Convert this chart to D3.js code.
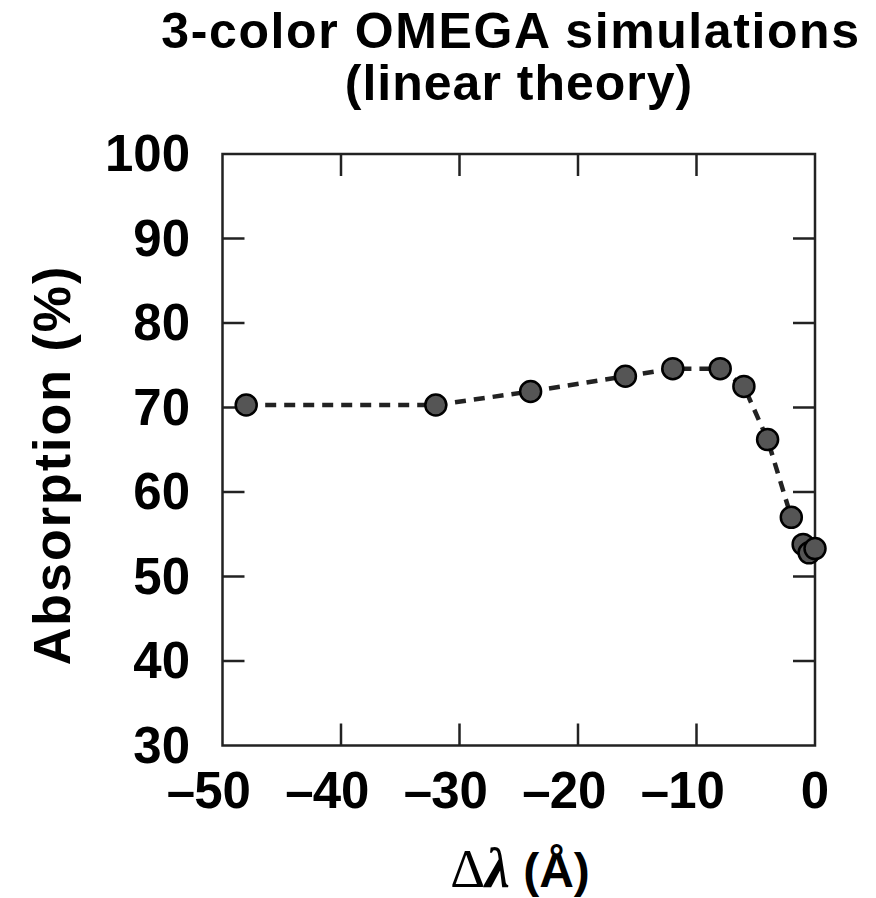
<!DOCTYPE html>
<html>
<head>
<meta charset="utf-8">
<script src="https://cdn.jsdelivr.net/npm/d3@7"></script>
<style>
  body { margin: 0; background: #fff; }
  svg { display: block; }
  text { font-family: "Liberation Sans", Arial, sans-serif; font-weight: bold; fill: #000; }
</style>
</head>
<body>
<svg width="876" height="898"></svg>
<script>
const deltaLambda = [-48, -32, -24, -16, -12, -8, -6, -4, -2, -1, -0.5, 0];
const absorption = [70.3, 70.3, 71.9, 73.7, 74.6, 74.6, 72.5, 66.2, 57.0, 53.8, 52.8, 53.3];
const xTicks = [-50, -40, -30, -20, -10, 0];
const yTicks = [30, 40, 50, 60, 70, 80, 90, 100];
const titleLines = ["3-color OMEGA simulations", "(linear theory)"];

const svg = d3.select("svg");
const plotLeft = 222.5, plotRight = 815, plotTop = 154, plotBottom = 745.5;

const x = d3.scaleLinear().domain([-50, 0]).range([plotLeft, plotRight]);
const y = d3.scaleLinear().domain([30, 100]).range([plotBottom, plotTop]);

const points = deltaLambda.map((d, i) => ({ x: d, y: absorption[i] }));

// frame
svg.append("rect")
  .attr("x", plotLeft).attr("y", plotTop)
  .attr("width", plotRight - plotLeft).attr("height", plotBottom - plotTop)
  .attr("fill", "none").attr("stroke", "#222").attr("stroke-width", 2.5);

// inward ticks on all four sides
const tickLen = 22;
const g = svg.append("g").attr("stroke", "#222").attr("stroke-width", 2.5);
xTicks.slice(1, -1).forEach(t => {
  g.append("line").attr("x1", x(t)).attr("x2", x(t)).attr("y1", plotBottom).attr("y2", plotBottom - tickLen);
  g.append("line").attr("x1", x(t)).attr("x2", x(t)).attr("y1", plotTop).attr("y2", plotTop + tickLen);
});
yTicks.slice(1, -1).forEach(t => {
  g.append("line").attr("x1", plotLeft).attr("x2", plotLeft + tickLen).attr("y1", y(t)).attr("y2", y(t));
  g.append("line").attr("x1", plotRight).attr("x2", plotRight - tickLen).attr("y1", y(t)).attr("y2", y(t));
});

// x tick labels: number centred on the tick, minus sign hanging to the left
const xLab = svg.append("g").selectAll("g")
  .data(xTicks).join("g");
xLab.append("text")
  .attr("class", "num")
  .attr("x", d => x(d)).attr("y", 808)
  .attr("text-anchor", "middle")
  .attr("font-size", 51)
  .text(d => Math.abs(d));
xLab.filter(d => d < 0).append("text")
  .attr("y", 808)
  .attr("text-anchor", "end")
  .attr("font-size", 51)
  .attr("x", function (d) {
    const w = this.parentNode.querySelector(".num").getComputedTextLength();
    return x(d) - w / 2 + 1;
  })
  .text("\u2013");

svg.append("g").selectAll("text")
  .data(yTicks).join("text")
  .attr("x", 190).attr("y", d => y(d) + 17)
  .attr("text-anchor", "end")
  .attr("font-size", 51)
  .text(d => d);

// dashed line
svg.append("path")
  .datum(points)
  .attr("fill", "none")
  .attr("stroke", "#222")
  .attr("stroke-width", 4.5)
  .attr("stroke-dasharray", "11,8")
  .attr("d", d3.line().x(d => x(d.x)).y(d => y(d.y)));

svg.append("g").selectAll("circle")
  .data(points).join("circle")
  .attr("cx", d => x(d.x)).attr("cy", d => y(d.y))
  .attr("r", 10.5)
  .attr("fill", "#555")
  .attr("stroke", "#000")
  .attr("stroke-width", 2.5);

// title
svg.append("g").selectAll("text")
  .data(titleLines).join("text")
  .attr("x", (d, i) => i === 0 ? 511 : 519)
  .attr("y", (d, i) => 48 + i * 52)
  .attr("text-anchor", "middle")
  .attr("font-size", 50)
  .attr("letter-spacing", (d, i) => i === 0 ? 1.6 : 1)
  .text(d => d);

// y label
svg.append("text")
  .attr("transform", "translate(70,465) rotate(-90)")
  .attr("text-anchor", "middle")
  .attr("font-size", 52)
  .attr("letter-spacing", 2)
  .text("Absorption (%)");

// x label
const xl = svg.append("text")
  .attr("x", 520).attr("y", 887)
  .attr("text-anchor", "middle")
  .attr("font-size", 48);
xl.append("tspan").attr("font-family", "Liberation Serif, serif").attr("font-weight", "normal").attr("font-size", 54).text("\u0394");
xl.append("tspan").attr("font-family", "Liberation Serif, serif").attr("font-style", "italic").attr("font-size", 56).text("\u03bb");
xl.append("tspan").text(" (\u00c5)");
</script>
</body>
</html>
